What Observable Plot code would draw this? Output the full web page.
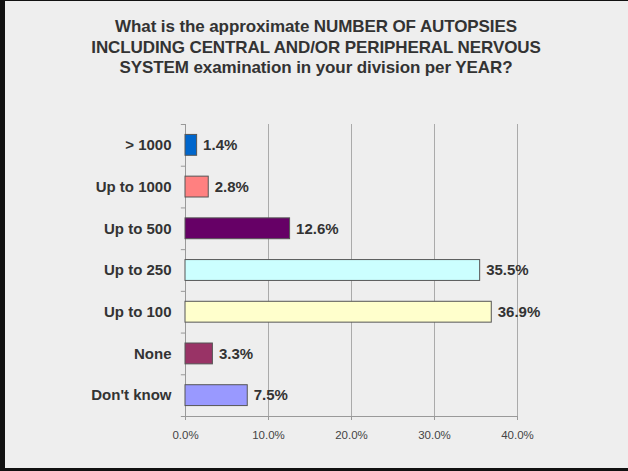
<!DOCTYPE html>
<html>
<head>
<meta charset="utf-8">
<script src="https://cdn.jsdelivr.net/npm/d3@7"></script>
<script src="https://cdn.jsdelivr.net/npm/@observablehq/plot@0.6"></script>
<style>
  html, body { margin: 0; padding: 0; background: #eeeeee; }
  #frame {
    position: relative; width: 628px; height: 471px; background: #eeeeee; overflow: hidden;
    box-shadow: inset 5px 0 0 #111, inset 0 1px 0 #111, inset 0 -3px 0 #111;
    font-family: "Liberation Sans", Arial, sans-serif;
  }
  #title {
    position: absolute; left: 0; width: 632px; top: 17px;
    text-align: center; font-size: 17px; font-weight: bold; line-height: 20.7px; color: #333;
    letter-spacing: -0.1px;
  }
  #chart { position: absolute; left: 0; top: 110px; }
</style>
</head>
<body>
<div id="frame">
  <div id="title">What is the approximate NUMBER OF AUTOPSIES<br>INCLUDING CENTRAL AND/OR PERIPHERAL NERVOUS<br>SYSTEM examination in your division per YEAR?</div>
  <div id="chart"></div>
</div>
<script>
const categories = ["> 1000", "Up to 1000", "Up to 500", "Up to 250", "Up to 100", "None", "Don't know"];
const values = [1.4, 2.8, 12.6, 35.5, 36.9, 3.3, 7.5];
const colors = ["#0066cc", "#ff8080", "#660066", "#ccffff", "#ffffcc", "#993366", "#9999ff"];
const xTicks = [0, 10, 20, 30, 40];

const data = categories.map((c, i) => ({cat: c, value: values[i], color: colors[i]}));

const plotHeight = 292;
const step = plotHeight / categories.length;

const chart = Plot.plot({
  width: 628,
  height: 361,
  marginLeft: 185,
  marginRight: 111,
  marginTop: 14,
  marginBottom: 55,
  style: {background: "transparent", fontFamily: "'Liberation Sans', Arial, sans-serif", color: "#333", overflow: "visible"},
  x: {domain: [0, 40]},
  y: {domain: categories, paddingInner: 0.5, paddingOuter: 0.25, round: false},
  marks: [
    Plot.ruleX(xTicks.slice(1), {stroke: "#aaaaaa", strokeWidth: 1}),
    Plot.ruleX([0], {stroke: "#999999"}),
    Plot.ruleY(categories, {y: d => d, x1: -0.5, x2: 0, dy: -step / 2, stroke: "#999999"}),
    Plot.ruleY([0], {y: () => categories[categories.length - 1], x1: -0.5, x2: 40, dy: step / 2, stroke: "#999999"}),
    Plot.barX(data, {x: "value", y: "cat", fill: "color", stroke: "#555555", strokeWidth: 1}),
    Plot.text(data, {x: "value", y: "cat", text: d => d.value.toFixed(1) + "%", dx: 6, textAnchor: "start", fontWeight: "bold", fontSize: 15, fill: "#333"}),
    Plot.axisX({ticks: xTicks, tickFormat: d => d.toFixed(1) + "%", tickSize: 4, tickPadding: 10, stroke: "#999999", fontSize: 11.5, fill: "#444", label: null}),
    Plot.axisY({tickSize: 0, tickPadding: 14, fontSize: 15, fontWeight: "bold", fill: "#333", label: null})
  ]
});
document.getElementById("chart").appendChild(chart);
</script>
</body>
</html>
